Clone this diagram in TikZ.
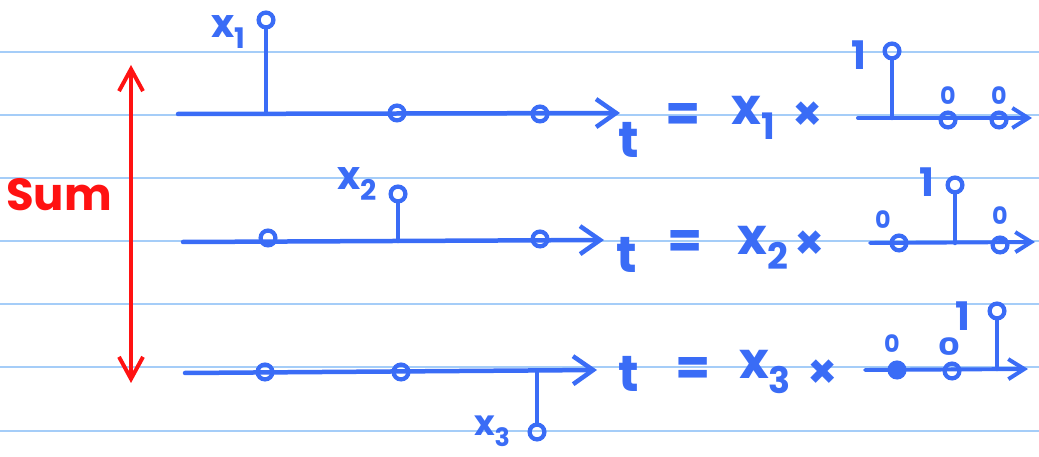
\documentclass[tikz,border=0pt]{standalone}
\usepackage{fontspec}
\setmainfont{Poppins}
\usetikzlibrary{arrows.meta}
\definecolor{ink}{RGB}{58,108,246}
\definecolor{rulecol}{RGB}{165,205,248}
\definecolor{redink}{RGB}{255,18,18}
\newcommand\lowidx[1]{\raisebox{-0.3em}{\scalebox{0.72}{#1}}}

\begin{document}
\begin{tikzpicture}[x=0.025cm, y=-0.025cm,
  ruling/.style={draw=rulecol, line width=1.3pt},
  inkline/.style={draw=ink, line width=3.2pt, line cap=round},
  axis/.style={inkline, -{Straight Barb[length=5mm,width=7mm]}},
  smallaxis/.style={inkline, line width=2.8pt, -{Straight Barb[length=4mm,width=5mm]}},
  stemdot/.style={circle, draw=ink, line width=3pt, minimum size=0.37cm, inner sep=0pt},
  fulldot/.style={stemdot, fill=ink},
  lab/.style={text=ink, inner sep=0pt, font=\fontsize{28}{28}\selectfont\bfseries},
  eq/.style={text=ink, inner sep=0pt, font=\fontsize{36}{36}\selectfont\bfseries},
  times/.style={text=ink, inner sep=0pt, font=\fontsize{34}{34}\selectfont\bfseries},
  val/.style={text=ink, inner sep=0pt, font=\fontsize{28}{28}\selectfont\bfseries},
  zero/.style={text=ink, inner sep=0pt, font=\fontsize{17}{17}\selectfont\bfseries},
  sumarr/.style={draw=redink, line width=2.8pt, line cap=round,
    {Straight Barb[length=5.5mm,width=6mm]}-{Straight Barb[length=5.5mm,width=6mm]}}
]
\useasboundingbox (0,0) rectangle (1039,457);

% ruled paper
\draw[ruling] (0,52) -- (1039,52);
\draw[ruling] (0,115) -- (1039,115);
\draw[ruling] (0,178) -- (1039,178);
\draw[ruling] (0,241) -- (1039,241);
\draw[ruling] (0,304) -- (1039,304);
\draw[ruling] (0,367) -- (1039,367);
\draw[ruling] (0,431) -- (1039,431);

% sum arrow
\coordinate (sumtop) at (131,65);
\coordinate (sumbot) at (131,383);
\draw[sumarr] (sumtop) -- (sumbot);
\node[text=redink, font=\fontsize{32}{32}\selectfont\bfseries] (sum) at (59,195) {Sum};

% row 1
\coordinate (a1) at (178,114);
\coordinate (b1) at (620,113);
\draw[axis] (a1) -- (b1);
\coordinate (k1) at (266,113);
\node[stemdot] (s1) at (266,20) {};
\draw[inkline] (k1) -- (s1);
\node[lab] (x1) at (228,32) {x\lowidx{1}};
\node[stemdot] (p12) at (397,113) {};
\node[stemdot] (p13) at (540,114) {};
\node[eq] (t1) at (629,140) {t};
\node[eq] (eq1) at (683,118) {=};
\node[eq] (c1) at (753,118) {x\lowidx{1}};
\node[times] (m1) at (808,116) {×};
\coordinate (u1) at (858,118);
\coordinate (v1) at (1032,118);
\draw[smallaxis] (u1) -- (v1);
\coordinate (q1) at (892,118);
\node[stemdot] (d1) at (892,51) {};
\draw[inkline] (q1) -- (d1);
\node[val] (one1) at (859,55) {1};
\node[stemdot] (e12) at (948,120) {};
\node[zero] (z12) at (948,96) {0};
\node[stemdot] (e13) at (999,120) {};
\node[zero] (z13) at (999,96) {0};

% row 2
\coordinate (a2) at (183,242);
\coordinate (b2) at (604,240);
\draw[axis] (a2) -- (b2);
\node[stemdot] (p21) at (268,238) {};
\coordinate (k2) at (398,241);
\node[stemdot] (s2) at (398,194) {};
\draw[inkline] (k2) -- (s2);
\node[lab] (x2) at (357,184) {x\lowidx{2}};
\node[stemdot] (p23) at (540,239) {};
\node[eq] (t2) at (627,255) {t};
\node[eq] (eq2) at (685,245) {=};
\node[eq] (c2) at (763,248) {x\lowidx{2}};
\node[times] (m2) at (810,245) {×};
\coordinate (u2) at (870,243);
\coordinate (v2) at (1035,242);
\draw[smallaxis] (u2) -- (v2);
\node[stemdot] (e21) at (899,243) {};
\node[zero] (z21) at (883,220) {0};
\coordinate (q2) at (955,243);
\node[stemdot] (d2) at (955,185) {};
\draw[inkline] (q2) -- (d2);
\node[val] (one2) at (927,182) {1};
\node[stemdot] (e23) at (1000,245) {};
\node[zero] (z23) at (1000,216) {0};

% row 3
\coordinate (a3) at (185,373);
\coordinate (b3) at (597,370);
\draw[axis] (a3) -- (b3);
\node[stemdot] (p31) at (265,372) {};
\node[stemdot] (p32) at (401,372) {};
\coordinate (k3) at (537,371);
\node[stemdot] (s3) at (537,432) {};
\draw[inkline] (k3) -- (s3);
\node[lab, font=\fontsize{25}{25}\selectfont\bfseries] (x3) at (492,431) {x\lowidx{3}};
\node[eq] (t3) at (629,374) {t};
\node[eq] (eq3) at (693,372) {=};
\node[eq] (c3) at (765,372) {x\lowidx{3}};
\node[times] (m3) at (823,374) {×};
\coordinate (u3) at (865,370);
\coordinate (v3) at (1028,369);
\draw[smallaxis] (u3) -- (v3);
\node[fulldot] (e31) at (897,370) {};
\node[zero] (z31) at (892,344) {0};
\node[stemdot] (e32) at (952,371) {};
\node[zero, xscale=1.4] (z32) at (949,347) {0};
\coordinate (q3) at (997,369);
\node[stemdot] (d3) at (997,311) {};
\draw[inkline] (q3) -- (d3);
\node[val] (one3) at (963,316) {1};
\end{tikzpicture}
\end{document}
